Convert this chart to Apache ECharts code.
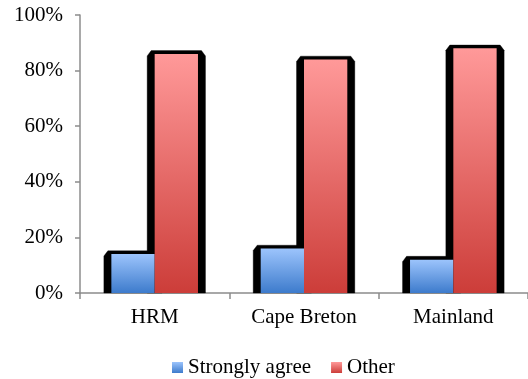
<!DOCTYPE html>
<html>
<head>
<meta charset="utf-8">
<script src="https://cdn.jsdelivr.net/npm/echarts@6/dist/echarts.min.js"></script>
<style>
  html, body { margin: 0; padding: 0; background: #fff; }
  #chart { width: 528px; height: 379px; }
</style>
</head>
<body>
<div id="chart"></div>
<script>
// Share of respondents by region
const regions = ['HRM', 'Cape Breton', 'Mainland'];
const stronglyAgree = [14, 16, 12];
const other = [86, 84, 88];
const seriesNames = ['Strongly agree', 'Other'];
const yTicks = [0, 20, 40, 60, 80, 100];

const BAR_RATIO = 0.29;
const FONT = 'Liberation Serif';

function grad(top, bottom) {
  return new echarts.graphic.LinearGradient(0, 0, 0, 1, [
    { offset: 0, color: top },
    { offset: 1, color: bottom }
  ]);
}

// Dark bevelled backdrop drawn behind each bar
function backdrop(slot) {
  return function (params, api) {
    const idx = api.value(0);
    const top = api.coord([idx, api.value(1)]);
    const base = api.coord([idx, 0]);
    const band = api.size([1, 0])[0];
    const w = band * BAR_RATIO;
    const L = top[0] - w + slot * w;
    const R = L + w;
    const t = top[1];
    const b = base[1];
    return {
      type: 'polygon',
      shape: {
        points: [
          [L - 7.5, b], [L - 7.5, t + 2], [L - 3.5, t - 3.3],
          [R + 3.5, t - 3.3], [R + 7.5, t + 2], [R + 7.5, b]
        ]
      },
      style: { fill: '#000', stroke: 'rgba(0,0,0,0.35)', lineWidth: 1 }
    };
  };
}

const chart = echarts.init(document.getElementById('chart'), null, { renderer: 'canvas' });

const legendText = { fontFamily: 'serif', fontSize: 21, color: '#000', fontWeight: 'normal' };

chart.setOption({
  animation: false,
  textStyle: { fontFamily: FONT },
  grid: { left: 80, width: 453, top: 15, height: 278, containLabel: false },
  legend: {
    data: seriesNames.map(n => ({ name: n, textStyle: legendText })),
    top: 352,
    left: 167,
    itemWidth: 11,
    itemHeight: 11,
    itemGap: 20,
    icon: 'rect',
    textStyle: legendText
  },
  xAxis: {
    type: 'category',
    data: regions,
    axisLine: { lineStyle: { color: '#8c8c8c', width: 1.5 } },
    axisTick: { show: true, length: 6, lineStyle: { color: '#8c8c8c', width: 1.5 } },
    axisLabel: { color: '#000', fontSize: 21, fontFamily: FONT, margin: 14 }
  },
  yAxis: {
    type: 'value',
    min: yTicks[0],
    max: yTicks[yTicks.length - 1],
    interval: 20,
    axisLine: { show: true, lineStyle: { color: '#8c8c8c', width: 1.5 } },
    axisTick: { show: true, length: 5, lineStyle: { color: '#8c8c8c', width: 1.5 } },
    splitLine: { show: false },
    axisLabel: { color: '#000', fontSize: 21, fontFamily: FONT, margin: 17, formatter: '{value}%' }
  },
  series: [
    {
      type: 'custom',
      silent: true,
      z: 1,
      renderItem: backdrop(0),
      data: stronglyAgree.map((v, i) => [i, v])
    },
    {
      type: 'custom',
      silent: true,
      z: 1,
      renderItem: backdrop(1),
      data: other.map((v, i) => [i, v])
    },
    {
      name: seriesNames[0],
      type: 'bar',
      z: 3,
      barWidth: (BAR_RATIO * 100) + '%',
      barGap: '0%',
      itemStyle: { color: grad('#9cc4fc', '#3d7bcc') },
      data: stronglyAgree
    },
    {
      name: seriesNames[1],
      type: 'bar',
      z: 3,
      barWidth: (BAR_RATIO * 100) + '%',
      barGap: '0%',
      itemStyle: { color: grad('#ff9999', '#cc3d39') },
      data: other
    }
  ]
});
</script>
</body>
</html>
